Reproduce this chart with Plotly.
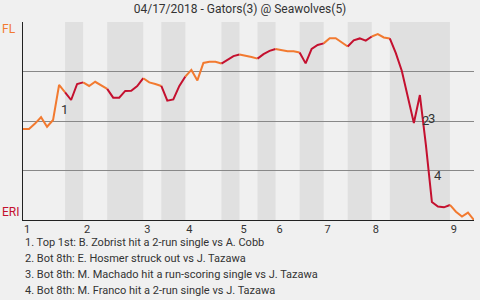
import plotly.graph_objects as go

# ---------------- data ----------------
title_text = "04/17/2018 - Gators(3) @ Seawolves(5)"
away_label = "FL"
home_label = "ERI"

# Away (FL) win probability (%) after each play, play index 0..75
win_prob = [
    46, 46, 48.7, 51.9, 47.1, 50.5, 68.2, 64.5, 60.6, 68.7,
    69.5, 67.7, 69.8, 68.0, 66.2, 61.8, 61.8, 65.2, 65.3, 67.6,
    71.6, 69.5, 68.7, 67.7, 60.3, 60.9, 67.7, 72.5, 75.8, 70.5,
    79.3, 79.9, 79.9, 79.0, 81.1, 82.8, 83.6, 83.1, 82.3, 81.5,
    83.8, 85.4, 86.4, 85.7, 85.2, 85.2, 84.6, 79.1, 86.4, 88.4,
    89.2, 91.8, 91.8, 89.9, 87.6, 90.7, 91.7, 90.6, 92.7, 93.9,
    92.2, 91.7, 84.3, 75.3, 61.6, 49.0, 63.1, 37.9, 9.1, 6.8,
    6.4, 7.6, 4.2, 1.7, 3.7, 0,
]

# first play index of each half-inning (top 1st, bot 1st, ..., top 9th) and game end
half_inning_starts = [0, 7, 10, 14, 20, 23, 27, 33, 36, 39, 42, 46, 50, 54, 58, 61, 71]
game_end = 75
inning_labels = ["1", "2", "3", "4", "5", "6", "7", "8", "9"]

# key plays
event_plays = [6, 66, 67, 68]
event_texts = [
    "1. Top 1st: B. Zobrist hit a 2-run single vs A. Cobb",
    "2. Bot 8th: E. Hosmer struck out vs J. Tazawa",
    "3. Bot 8th: M. Machado hit a run-scoring single vs J. Tazawa",
    "4. Bot 8th: M. Franco hit a 2-run single vs J. Tazawa",
]

# ---------------- style ----------------
AWAY_COLOR = "#f27a30"
HOME_COLOR = "#c4102f"
BG = "#f0f0f0"
BAND = "#e0e0e0"
TEXT = "#333333"
FONT = "Roboto"

fig = go.Figure()

bounds = half_inning_starts + [game_end]
shapes = []
for i in range(len(half_inning_starts)):
    s, e = bounds[i], bounds[i + 1]
    is_top = (i % 2 == 0)
    if not is_top:
        shapes.append(dict(type="rect", xref="x", yref="paper", x0=s, x1=e, y0=0, y1=1,
                           fillcolor=BAND, line=dict(width=0), layer="below"))
    fig.add_trace(go.Scatter(
        x=list(range(s, e + 1)), y=win_prob[s:e + 1], mode="lines",
        line=dict(color=AWAY_COLOR if is_top else HOME_COLOR, width=2),
        hoverinfo="skip", showlegend=False,
    ))

annotations = []
# event markers near the plays
for n, k in enumerate(event_plays):
    rise = win_prob[k] > win_prob[k - 1]
    annotations.append(dict(
        x=k, y=win_prob[k], xref="x", yref="y", text=str(n + 1), showarrow=False,
        xanchor="left", yanchor="middle", yshift=-25 if rise else 26,
        font=dict(family=FONT, size=13, color=TEXT),
    ))

# team labels on the left
annotations.append(dict(x=0, y=1, xref="paper", yref="paper", text=away_label, showarrow=False,
                        xanchor="left", yanchor="middle", xshift=-23, yshift=-7,
                        font=dict(family=FONT, size=12, color=AWAY_COLOR)))
annotations.append(dict(x=0, y=0, xref="paper", yref="paper", text=home_label, showarrow=False,
                        xanchor="left", yanchor="middle", xshift=-23, yshift=8,
                        font=dict(family=FONT, size=12, color=HOME_COLOR)))

# event descriptions under the chart
for n, t in enumerate(event_texts):
    annotations.append(dict(x=0, y=0, xref="paper", yref="paper", text=t, showarrow=False,
                            xanchor="left", yanchor="middle", yshift=-22 - 16 * n,
                            font=dict(family=FONT, size=11, color=TEXT)))

top_starts = half_inning_starts[0::2]

fig.update_layout(
    width=480, height=300,
    margin=dict(l=23, r=6, t=22, b=80),
    paper_bgcolor=BG, plot_bgcolor=BG,
    title=dict(text=title_text, x=0.5, xref="container", y=1 - 8.5 / 300, yref="container",
               xanchor="center", yanchor="middle",
               font=dict(family=FONT, size=12, color=TEXT)),
    shapes=shapes,
    annotations=annotations,
    xaxis=dict(range=[0, game_end], tickvals=top_starts, ticktext=inning_labels,
               showgrid=False, zeroline=False, showline=True, linecolor="#222222", linewidth=1,
               ticks="", ticklabelshift=4, ticklabelstandoff=-1,
               tickfont=dict(family=FONT, size=11, color=TEXT), fixedrange=True),
    yaxis=dict(range=[0, 100], tickvals=[25, 50, 75, 100], showticklabels=False,
               showgrid=True, gridcolor="#888888", gridwidth=1, zeroline=False,
               showline=True, linecolor="#222222", linewidth=1, ticks="", fixedrange=True),
    font=dict(family=FONT, color=TEXT),
)

fig.write_html("out.html")
